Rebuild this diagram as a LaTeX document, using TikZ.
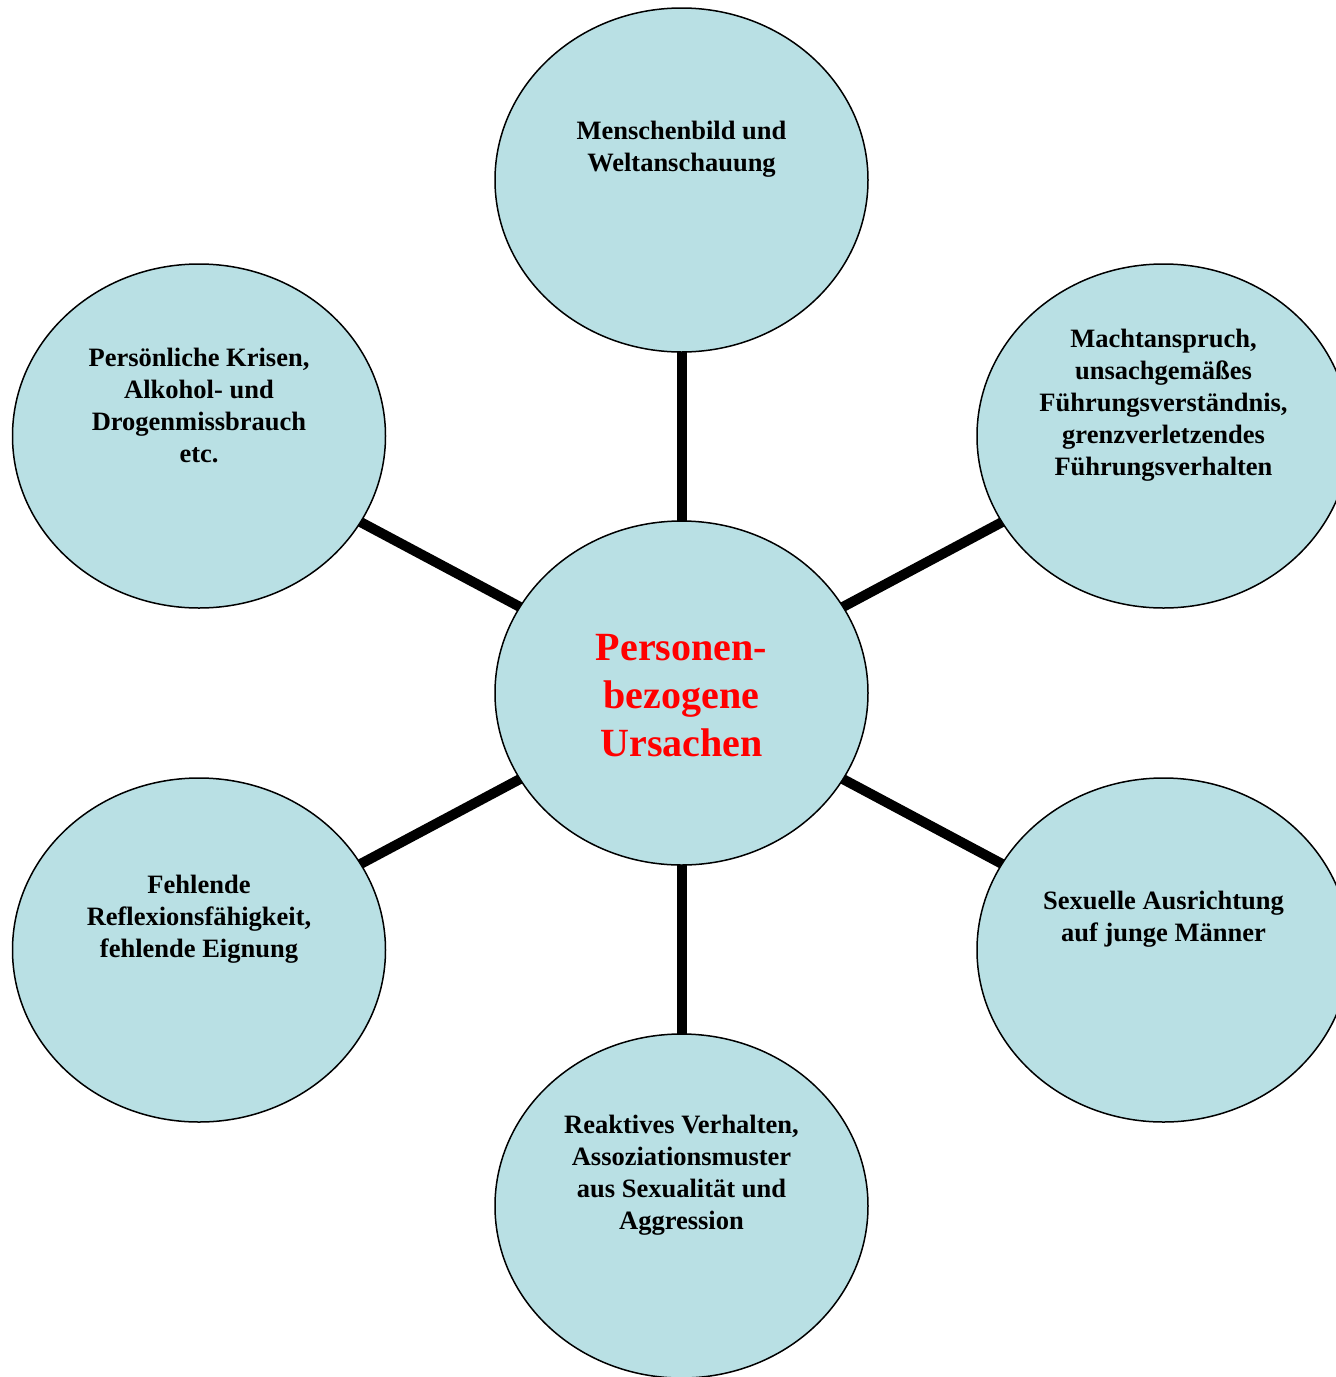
\documentclass[tikz,border=0pt]{standalone}
\usepackage{fontspec}
\setmainfont{Liberation Serif}
\usetikzlibrary{shapes.geometric,backgrounds}
\definecolor{bubblefill}{RGB}{185,224,228}
\begin{document}
\begin{tikzpicture}[x=1pt,y=-1pt,
  bubble/.style={ellipse, draw=black, line width=1.5pt, fill=bubblefill,
    minimum width=373pt, minimum height=344pt, inner sep=0pt},
  caption/.style={align=center, inner sep=0pt,
    font=\fontsize{26.5}{32}\selectfont\bfseries},
  hubtext/.style={align=center, inner sep=0pt, text=red,
    font=\fontsize{40}{48}\selectfont\bfseries},
  spoke/.style={line width=10pt}]
\clip (0,0) rectangle (1336,1377);

% central bubble and the six surrounding bubbles
\node[bubble] (hub) at (681.5,693) {};
\node[bubble] (top) at (681.5,180) {};
\node[bubble] (ul)  at (199,436) {};
\node[bubble] (ur)  at (1163.5,436) {};
\node[bubble] (ll)  at (199,950) {};
\node[bubble] (lr)  at (1163.5,950) {};
\node[bubble] (bot) at (681.5,1206) {};

% spokes, drawn underneath the bubbles
\begin{scope}[on background layer]
  \foreach \b in {top,ul,ur,ll,lr,bot}
    \draw[spoke] (hub.center) -- (\b.center);
\end{scope}

% texts (outer captions sit a little above the bubble centre)
\node[hubtext] (hub-t) at ([yshift=-3pt]hub.center) {Personen-\\bezogene\\Ursachen};
\node[caption] (top-t) at ([yshift=31pt]top.center) {Menschenbild und\\Weltanschauung};
\node[caption] (ul-t) at ([yshift=31pt]ul.center) {Persönliche Krisen,\\Alkohol- und\\Drogenmissbrauch\\etc.};
\node[caption] (ur-t) at ([yshift=31pt]ur.center) {Machtanspruch,\\unsachgemäßes\\Führungsverständnis,\\grenzverletzendes\\Führungsverhalten};
\node[caption] (ll-t) at ([yshift=31pt]ll.center) {Fehlende\\Reflexionsfähigkeit,\\fehlende Eignung};
\node[caption] (lr-t) at ([yshift=31pt]lr.center) {Sexuelle Ausrichtung\\auf junge Männer};
\node[caption] (bot-t) at ([yshift=31pt]bot.center) {Reaktives Verhalten,\\Assoziationsmuster\\aus Sexualität und\\Aggression};
\end{tikzpicture}
\end{document}
